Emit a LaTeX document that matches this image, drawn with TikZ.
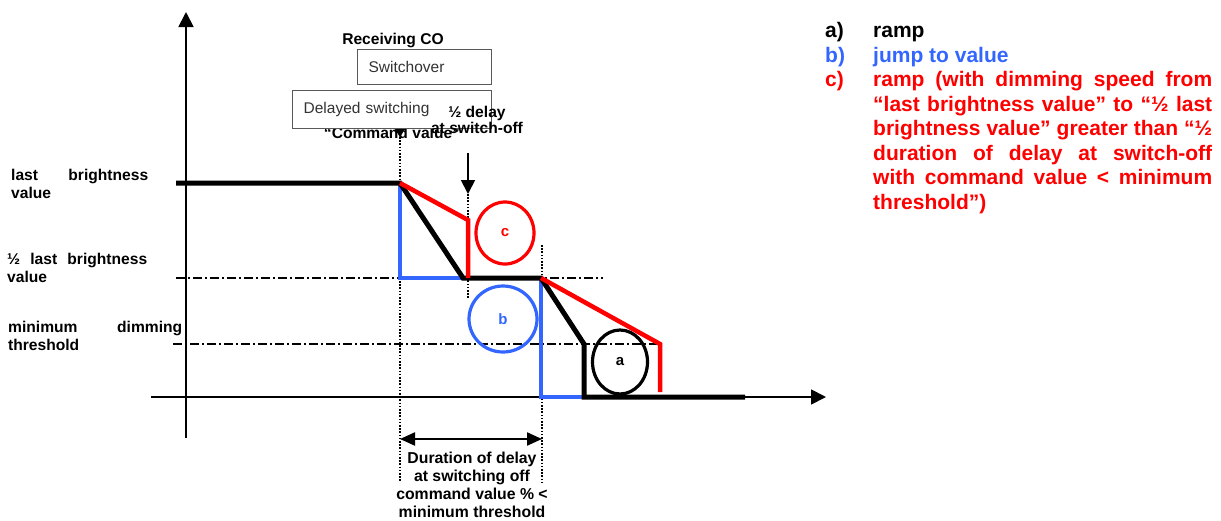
\documentclass[tikz,border=0pt]{standalone}
\usepackage{fontspec}
\setmainfont{Liberation Sans}
\usepackage{xcolor}
\usepackage{tikz}
\usetikzlibrary{arrows.meta, shapes.geometric, positioning}
\definecolor{jumpblue}{RGB}{51,102,255}
\hyphenpenalty=10000
\exhyphenpenalty=10000

\begin{document}
\begin{tikzpicture}[x=1pt, y=-1pt,
axis/.style={line width=1.8pt, -{Triangle[length=15pt, width=15pt]}},
guide/.style={line width=1.2pt, dash pattern=on 9pt off 3pt on 2pt off 3pt},
dotline/.style={line width=2.4pt, dash pattern=on 1.6pt off 1.6pt},
rampa/.style={line width=5pt, black},
jumpb/.style={line width=4.5pt, jumpblue},
rampc/.style={line width=4.5pt, red},
ring/.style={ellipse, draw, line width=3.2pt, inner sep=0pt, font=\fontsize{15}{18}\selectfont\bfseries},
panel/.style={rectangle, draw=black!65, line width=1.3pt, fill=white, inner xsep=11pt, align=left,
font=\fontsize{15.5}{18}\selectfont, text=black!80},
lbl/.style={inner sep=0pt, font=\fontsize{15.6}{18}\selectfont\bfseries},
side/.style={lbl, align=justify, anchor=north west},
lgd/.style={inner sep=0pt, font=\fontsize{21}{24.5}\selectfont\bfseries} ]
\useasboundingbox (0,0) rectangle (1221,520);
\fill[white] (0,0) rectangle (1221,520);
% axes
\draw[axis] (186,438) -- (186,12);
\draw[axis] (151,397) -- (826,397);
% level guides
\draw[guide] (176,278) -- (603,278);
\draw[guide] (173,344) -- (660,344);
% marker lines
\coordinate (cmdtip) at (400,137);
\coordinate (cmdend) at (400,482);
\coordinate (halftop) at (468,153);
\coordinate (halftip) at (468,194);
\coordinate (halfend) at (468,298);
\coordinate (delaytop) at (542,245);
\coordinate (delayend) at (542,482);
\draw[dotline] (cmdtip) -- (cmdend);
\draw[dotline] (halftip) -- (halfend);
\draw[dotline] (delaytop) -- (delayend);
% curves
\draw[jumpb] (400,183) -- (400,278) -- (463,278);
\draw[jumpb] (541,278) -- (541,397) -- (584,397);
\draw[rampa] (176,183) -- (400,183) -- (463,278) -- (541,278) -- (584,344) -- (584,397) -- (745,397);
\draw[rampc] (400,183) -- (468,220) -- (468,278);
\draw[rampc] (541,278) -- (660,344) -- (660,392);
\node[ring, draw=red, text=red, minimum width=58pt, minimum height=62pt] (ringc) at (505,233) {c};
\node[ring, draw=jumpblue, text=jumpblue, minimum width=68pt, minimum height=66pt] (ringb) at (503,319) {b};
\node[ring, draw=black, minimum width=55pt, minimum height=64pt] (ringa) at (620,362) {a};
% axis labels
\node[side, text width=137pt] (lastval) at (11,168.6) {last brightness\linebreak value};
\node[side, text width=140pt] (halfval) at (7,252.6) {½ last brightness\linebreak value};
\node[side, text width=174pt] (minval) at (8,320.6) {minimum dimming\linebreak threshold};
% telegram boxes
\node[lbl] (cmdval) at (392,132.5) {“Command value”};
\node[lbl] (rco) at (393,40) {Receiving CO};
\node[panel, anchor=north west, text width=112pt, minimum height=35pt] (swo) at (357,49) {Switchover};
\node[panel, anchor=north west, text width=177pt, minimum height=38pt] (dsw) at (292,90) {Delayed switching};
\node[lbl, align=center, font=\fontsize{15.6}{16}\selectfont\bfseries] (halfd) at (477,120) {½ delay\\at switch-off};
\draw[line width=1pt, -{Triangle[length=8pt, width=10pt]}] (dsw.south -| cmdtip) -- (cmdtip);
\draw[line width=1.8pt, -{Triangle[length=14pt, width=14pt]}] (halftop) -- (halftip);
% duration
\coordinate (durl) at (400,439);
\coordinate (durr) at (542,439);
\draw[line width=2.2pt, {Triangle[length=15pt, width=13pt]}-{Triangle[length=15pt, width=13pt]}] (durl) -- (durr);
\node[lbl, align=center, font=\fontsize{15.8}{18}\selectfont\bfseries] (dur) at (472,485)
{Duration of delay\\at switching off\\command value \% <\\minimum threshold};
% legend
\node[lgd, anchor=base west] (keya) at (825,37.5) {a)};
\node[lgd, anchor=base west] (texta) at (873,37.5) {ramp};
\node[lgd, anchor=base west, text=jumpblue] (keyb) at (825,62) {b)};
\node[lgd, anchor=base west, text=jumpblue] (textb) at (873,62) {jump to value};
\node[lgd, anchor=base west, text=red] (keyc) at (825,86.5) {c)};
\node[lgd, anchor=north west, text=red, text width=339pt, align=justify] (textc) at (873,71.2)
{ramp (with dimming speed from\linebreak “last brightness value” to “½ last\linebreak brightness value” greater than “½\linebreak duration of delay at switch-off\linebreak with command value < minimum\linebreak threshold”)};
\end{tikzpicture}
\end{document}
